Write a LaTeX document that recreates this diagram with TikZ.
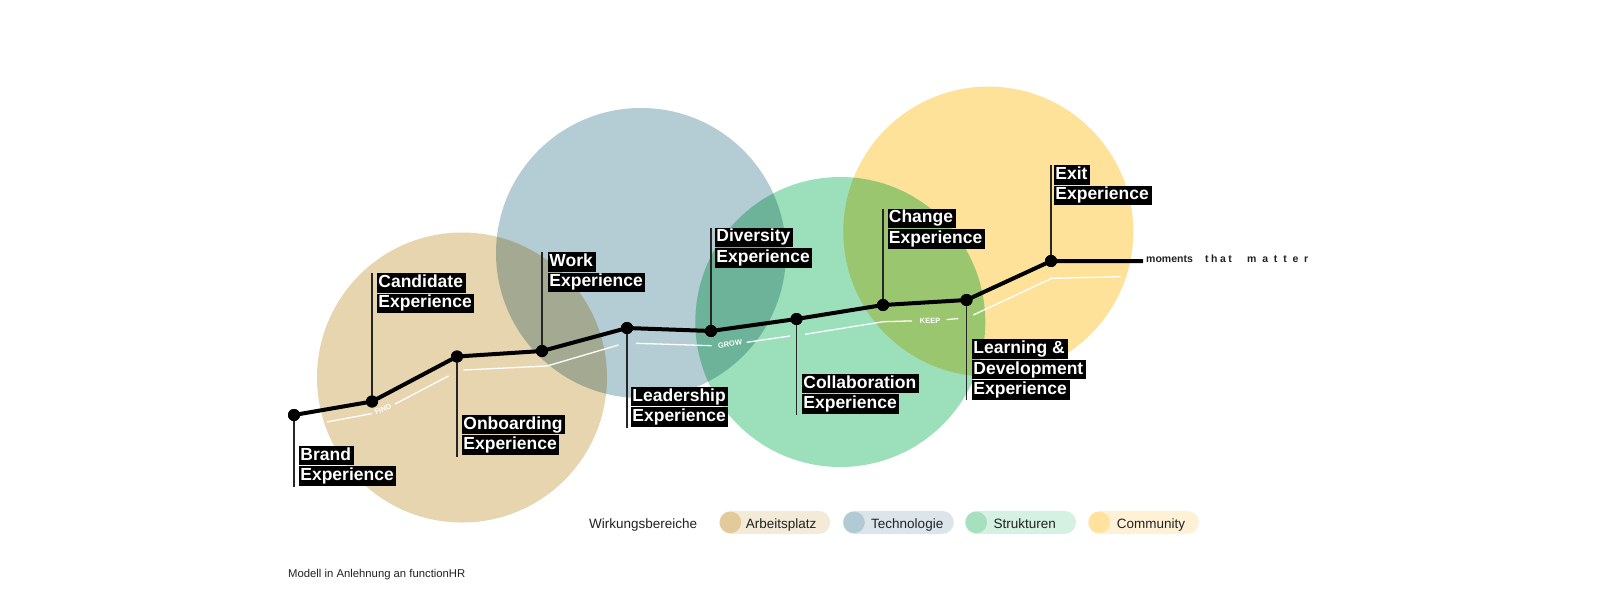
\documentclass[tikz,border=0pt]{standalone}
\usepackage{fontspec}
\setmainfont{Liberation Sans}
\usetikzlibrary{calc}
\definecolor{tanC}{HTML}{E7D5AF}
\definecolor{bluC}{HTML}{B4CCD4}
\definecolor{grnC}{HTML}{9BE0BA}
\definecolor{yelC}{HTML}{FFE29A}
\definecolor{tanL}{HTML}{F3EAD8}
\definecolor{bluL}{HTML}{DCE5EA}
\definecolor{grnL}{HTML}{D5F1E1}
\definecolor{yelL}{HTML}{FFF1D6}
\definecolor{tanD}{HTML}{E2CA9A}
\definecolor{bluD}{HTML}{B1CAD3}
\definecolor{grnD}{HTML}{A6E0BF}
\definecolor{yelD}{HTML}{FFE29E}
\definecolor{ink}{HTML}{222222}
\newcommand\hlx[1]{{\setlength\fboxsep{1.2pt}\colorbox{black}{\rule[-4pt]{0pt}{17pt}\textcolor{white}{#1}\hspace{1.5pt}}}}
\begin{document}
\begin{tikzpicture}[x=1pt,y=-1pt,
  dot/.style={circle,fill=black,minimum size=12pt,inner sep=0pt},
  jline/.style={line width=4pt,black,line join=round},
  stem/.style={line width=1.4pt,black!85},
  wline/.style={white,line width=1.3pt},
  wtxt/.style={text=white,font=\bfseries\fontsize{7.5}{8}\selectfont,inner sep=0pt},
  lbl/.style={inner sep=0pt,align=left,font=\bfseries\fontsize{17.5}{20.5}\selectfont},
  bubble/.style={circle,minimum size=290pt,inner sep=0pt,draw=none},
  pillbg/.style={minimum width=111pt,minimum height=23pt,rounded corners=11.5pt,inner sep=0pt,draw=none},
  pilldot/.style={circle,minimum size=21.5pt,inner sep=0pt,draw=none},
  ptxt/.style={inner sep=0pt,text=ink,font=\fontsize{13.5}{14}\selectfont},
  mtxt/.style={inner sep=0pt,text=ink,font=\bfseries\fontsize{10.5}{11}\selectfont}
]
\path[use as bounding box,fill=white] (0,0) rectangle (1600,600);

% bubbles
\begin{scope}[blend group=multiply]
  \node[bubble,fill=tanC] (arb) at (462,377.5) {};
  \node[bubble,fill=bluC] (tech) at (641,253) {};
  \node[bubble,fill=grnC] (struk) at (840.3,322) {};
  \node[bubble,fill=yelC] (comm) at (988.3,231.6) {};
\end{scope}

% white guide line
\coordinate (wA) at (327,422);
\coordinate (wP) at (372,413.5);
\coordinate (wQ) at (395,404);
\coordinate (wB) at (448.5,376);
\coordinate (wC) at (463.5,370);
\coordinate (wD) at (547,366);
\coordinate (wE) at (618.5,345);
\coordinate (wF) at (636,343.3);
\coordinate (wG) at (711.7,345.7);
\coordinate (wG2) at (746.7,342.3);
\coordinate (wH) at (790,336);
\coordinate (wI) at (805,334.3);
\coordinate (wJ) at (883.3,321.7);
\coordinate (wK1) at (912,320.9);
\coordinate (wK2) at (946.7,319.6);
\coordinate (wK) at (958.3,318.5);
\coordinate (wL) at (973.3,315);
\coordinate (wM) at (1051.7,278.3);
\coordinate (wN) at (1120.7,276.7);
\draw[wline] (wA)--(wP) (wQ)--(wB) (wC)--(wD)--(wE) (wF)--(wG) (wG2)--(wH)
  (wI)--(wJ)--(wK1) (wK2)--(wK) (wL)--(wM)--(wN);
\node[wtxt,rotate=24] (find) at (383,409) {FIND};
\node[wtxt,rotate=7] (grow) at (730,344) {GROW};
\node[wtxt,rotate=2] (keep) at (930,321) {KEEP};

% moments
\node[dot] (brand) at (294,415) {};
\node[dot] (cand) at (372,401.5) {};
\node[dot] (onb) at (457,356.5) {};
\node[dot] (work) at (542,351) {};
\node[dot] (lead) at (627,328) {};
\node[dot] (div) at (711,331) {};
\node[dot] (coll) at (796.5,319) {};
\node[dot] (chg) at (883,305) {};
\node[dot] (learn) at (966.5,300) {};
\node[dot] (exit) at (1051,261) {};
\coordinate (endpt) at (1143,261);

% stems
\coordinate (brandS) at (294,487);
\coordinate (candS) at (372,272.5);
\coordinate (onbS) at (457,456.5);
\coordinate (workS) at (542,252);
\coordinate (leadS) at (627,428);
\coordinate (divS) at (711,228);
\coordinate (collS) at (796.5,415);
\coordinate (chgS) at (883,208.5);
\coordinate (learnS) at (966.5,400);
\coordinate (exitS) at (1051,165);
\foreach \n in {brand,cand,onb,work,lead,div,coll,chg,learn,exit}
  \draw[stem] (\n.center) -- (\n S);

\draw[jline] (brand.center) -- (cand.center) -- (onb.center) -- (work.center) -- (lead.center)
  -- (div.center) -- (coll.center) -- (chg.center) -- (learn.center) -- (exit.center) -- (endpt);
\foreach \n in {brand,cand,onb,work,lead,div,coll,chg,learn,exit}
  \fill[black] (\n) circle (6pt);

% labels
\node[lbl,anchor=south west] (brandL) at (299,486) {\hlx{Brand}\\\hlx{Experience}};
\node[lbl,anchor=north west] (candL) at (377,273) {\hlx{Candidate}\\\hlx{Experience}};
\node[lbl,anchor=south west] (onbL) at (462,455) {\hlx{Onboarding}\\\hlx{Experience}};
\node[lbl,anchor=north west] (workL) at (548,252) {\hlx{Work}\\\hlx{Experience}};
\node[lbl,anchor=south west] (leadL) at (631,427) {\hlx{Leadership}\\\hlx{Experience}};
\node[lbl,anchor=north west] (divL) at (715,227.5) {\hlx{Diversity}\\\hlx{Experience}};
\node[lbl,anchor=south west] (collL) at (802,414) {\hlx{Collaboration}\\\hlx{Experience}};
\node[lbl,anchor=north west] (chgL) at (887.5,208.5) {\hlx{Change}\\\hlx{Experience}};
\node[lbl,anchor=south west] (learnL) at (972,400) {\hlx{Learning \&}\\\hlx{Development}\\\hlx{Experience}};
\node[lbl,anchor=north west] (exitL) at (1054,165) {\hlx{Exit}\\\hlx{Experience}};

% moments that matter
\node[mtxt,anchor=base west] (mom) at (1146,262.5) {moments};
\node[mtxt,anchor=base west] (that) at (1205,262.5) {t\hspace{2.5pt}h\hspace{2.5pt}a\hspace{2.5pt}t};
\node[mtxt,anchor=base west] (matter) at (1247,262.5) {m\hspace{5.8pt}a\hspace{5.8pt}t\hspace{5.8pt}t\hspace{5.8pt}e\hspace{5.8pt}r};

% legend
\node[ptxt,anchor=base west] (wb) at (589,528) {Wirkungsbereiche};
\node[pillbg,fill=tanL] (p1) at (774.7,522.4) {};
\node[pilldot,fill=tanD] (d1) at ([xshift=11.5pt]p1.west) {};
\node[ptxt,anchor=base west] (t1) at (745.7,528) {Arbeitsplatz};
\node[pillbg,fill=bluL] (p2) at (898.3,522.4) {};
\node[pilldot,fill=bluD] (d2) at ([xshift=11.5pt]p2.west) {};
\node[ptxt,anchor=base west] (t2) at (871,528) {Technologie};
\node[pillbg,fill=grnL] (p3) at (1020.5,522.4) {};
\node[pilldot,fill=grnD] (d3) at ([xshift=11.5pt]p3.west) {};
\node[ptxt,anchor=base west] (t3) at (993.3,528) {Strukturen};
\node[pillbg,fill=yelL] (p4) at (1143.5,522.4) {};
\node[pilldot,fill=yelD] (d4) at ([xshift=11.5pt]p4.west) {};
\node[ptxt,anchor=base west] (t4) at (1116.7,528) {Community};

\node[inner sep=0pt,text=ink,font=\fontsize{11.3}{12}\selectfont,anchor=base west] (credit) at (288,577.5) {Modell in Anlehnung an functionHR};
\end{tikzpicture}
\end{document}
